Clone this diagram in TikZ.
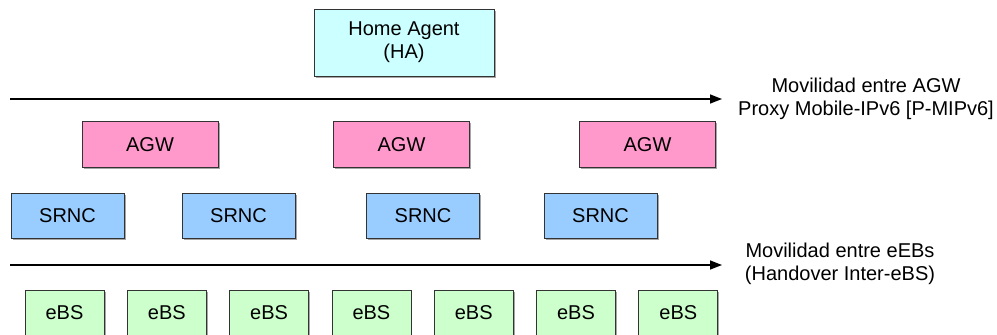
\documentclass[tikz,border=0pt]{standalone}
\usepackage{fontspec}
\setmainfont{Liberation Sans}
\usetikzlibrary{positioning,arrows.meta,shadows}
\definecolor{hacyan}{HTML}{CCFFFF}
\definecolor{agwpink}{HTML}{FF99CC}
\definecolor{rncblue}{HTML}{99CCFF}
\definecolor{bsgreen}{HTML}{CCFFCC}
\begin{document}
\begin{tikzpicture}[x=1pt,y=-1pt,node distance=22.5pt,font=\fontsize{20}{23}\selectfont]
\tikzstyle{box}=[draw=black!80,line width=0.8pt,inner sep=0pt,drop shadow={shadow xshift=1.5pt,shadow yshift=-1.5pt,fill=black!35,opacity=1}]
\tikzstyle{gw}=[box,fill=agwpink,minimum width=136pt,minimum height=46pt]
\tikzstyle{rnc}=[box,fill=rncblue,minimum width=113pt,minimum height=45pt]
\tikzstyle{bs}=[box,fill=bsgreen,minimum width=79pt,minimum height=46pt]
\tikzstyle{mob}=[-{Triangle[length=12pt,width=9pt]},line width=1.5pt]
\useasboundingbox (0,0) rectangle (997,335);
\node[box,fill=hacyan,minimum width=180pt,minimum height=67pt,align=center] (ha) at (404,42.5) {Home Agent\\(HA)};
% AGW level
\coordinate (top0) at (10,99);
\coordinate (top1) at (722,99);
\draw[mob] (top0) -- (top1);
\node[align=center] (ltop) at (866,99) {Movilidad entre AGW\\Proxy Mobile-IPv6 [P-MIPv6]};
\node[gw] (gw1) at (150,144.5) {AGW};
\node[gw] (gw2) at (401.5,144.5) {AGW};
\node[gw] (gw3) at (647.5,144.5) {AGW};
\node[rnc] (rnc1) at (67.5,215.5) {SRNC};
\node[rnc] (rnc2) at (238.5,215.5) {SRNC};
\node[rnc] (rnc3) at (423,215.5) {SRNC};
\node[rnc] (rnc4) at (600.5,215.5) {SRNC};
% eBS level
\coordinate (bot0) at (10,265);
\coordinate (bot1) at (722,265);
\draw[mob] (bot0) -- (bot1);
\node[align=center] (lbot) at (840,264) {Movilidad entre eEBs\\(Handover Inter-eBS)};
\node[bs] (bs1) at (64.5,313) {eBS};
\node[bs] (bs2) [right=of bs1] {eBS};
\node[bs] (bs3) [right=of bs2] {eBS};
\node[bs] (bs4) [right=of bs3] {eBS};
\node[bs] (bs5) [right=of bs4] {eBS};
\node[bs] (bs6) [right=of bs5] {eBS};
\node[bs] (bs7) [right=of bs6] {eBS};
\end{tikzpicture}
\end{document}
